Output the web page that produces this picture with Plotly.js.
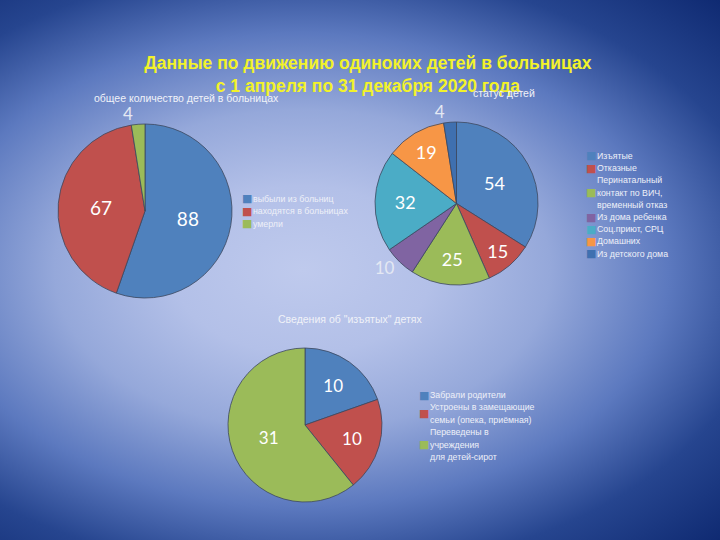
<!DOCTYPE html>
<html>
<head>
<meta charset="utf-8">
<script src="https://cdn.plot.ly/plotly-3.0.1.min.js"></script>
<style>
html,body{margin:0;padding:0;}
body{width:720px;height:540px;overflow:hidden;
background:radial-gradient(ellipse farthest-corner at 42% 50%, #bfcaed 0%, #b3c0e8 22%, #95a8da 42%, #5c79bf 62%, #26458f 80%, #0f2a72 100%);}
#chart{width:720px;height:540px;}
</style>
</head>
<body>
<div id="chart"></div>
<script>
// ---- data ----
const mainTitle = "Данные по движению одиноких детей в больницах<br>с 1 апреля по 31 декабря 2020 года";

const pie1Title = "общее количество детей в больницах";
const pie1Labels = ["выбыли из больниц", "находятся в больницах", "умерли"];
const pie1Values = [88, 67, 4];

const pie2Title = "статус детей";
const pie2Labels = ["Изъятые", "Отказные", "Перинатальный<br>контакт по ВИЧ,<br>временный отказ", "Из дома ребенка", "Соц.приют, СРЦ", "Домашних", "Из детского дома"];
const pie2Values = [54, 15, 25, 10, 32, 19, 4];

const pie3Title = "Сведения об \"изъятых\" детях";
const pie3Labels = ["Забрали родители", "Устроены в замещающие<br>семьи (опека, приёмная)", "Переведены в<br>учреждения<br>для детей-сирот"];
const pie3Values = [10, 10, 31];

const sliceColors = ["#4f81bd", "#c0504d", "#9bbb59", "#8064a2", "#4bacc6", "#f79646", "#3f70b0"];

// ---- styles ----
const W = 720, H = 540;
const lineStyle = {color: "#3c475e", width: 0.8};
const inFont = {family: "Lato, 'Open Sans', sans-serif", color: "#ffffff", size: 19};
const outFont = {family: "Lato, 'Open Sans', sans-serif", color: "#e4e8f3", size: 17};
const legFont = {family: "'Liberation Sans', Arial, sans-serif", color: "#eef0f8", size: 8.8};
const subFont = {family: "'Liberation Sans', Arial, sans-serif", color: "#f0f2f8", size: 10.5};

function dom(x0, x1, y0, y1){ return {x:[x0/W, x1/W], y:[1 - y1/H, 1 - y0/H]}; }

const traces = [
  {type:"pie", labels:pie1Labels, values:pie1Values, sort:false, direction:"clockwise", rotation:0,
   marker:{colors:sliceColors.slice(0,3), line:lineStyle}, textinfo:"value",
   textposition:["inside","inside","outside"], insidetextorientation:"horizontal",
   insidetextfont:inFont, outsidetextfont:outFont, domain:dom(58,232,124,298), hoverinfo:"label+value"},
  {type:"pie", labels:pie2Labels, values:pie2Values, sort:false, direction:"clockwise", rotation:0,
   marker:{colors:sliceColors, line:lineStyle}, textinfo:"value",
   textposition:["inside","inside","inside","outside","inside","inside","outside"], insidetextorientation:"horizontal",
   insidetextfont:Object.assign({}, inFont, {size:18}), outsidetextfont:outFont, domain:dom(375,538,122,285), hoverinfo:"label+value"},
  {type:"pie", labels:pie3Labels, values:pie3Values, sort:false, direction:"clockwise", rotation:0,
   marker:{colors:sliceColors.slice(0,3), line:lineStyle}, textinfo:"value",
   textposition:"inside", insidetextorientation:"horizontal",
   insidetextfont:Object.assign({}, inFont, {size:17}), domain:dom(228,382,348,502), hoverinfo:"label+value"}
];

// legend built from the label arrays (compact line spacing as in the reference)
function legendAnnots(labels, colors, x0, yTop, lh){
  const out = [];
  let row = 0;
  labels.forEach((lab, i) => {
    const lines = lab.split("<br>");
    const mid = row + (lines.length - 1) / 2;
    out.push({text:"■", x:x0/W, y:1 - (yTop + mid*lh)/H, xref:"paper", yref:"paper",
      xanchor:"left", yanchor:"middle", showarrow:false,
      font:{family:"'DejaVu Sans', sans-serif", size:11, color:colors[i]}});
    lines.forEach((ln, k) => {
      out.push({text:ln, x:(x0+11)/W, y:1 - (yTop + (row+k)*lh)/H, xref:"paper", yref:"paper",
        xanchor:"left", yanchor:"middle", showarrow:false, font:legFont});
    });
    row += lines.length;
  });
  return out;
}

const annotations = [
  {text: pie1Title, x:186/W, y:1-98/H, xref:"paper", yref:"paper", xanchor:"center", yanchor:"middle", showarrow:false, font:subFont},
  {text: pie2Title, x:504/W, y:1-93/H, xref:"paper", yref:"paper", xanchor:"center", yanchor:"middle", showarrow:false, font:subFont},
  {text: pie3Title, x:350/W, y:1-319/H, xref:"paper", yref:"paper", xanchor:"center", yanchor:"middle", showarrow:false, font:subFont}
].concat(
  legendAnnots(pie1Labels, sliceColors, 240, 199, 12.5),
  legendAnnots(pie2Labels, sliceColors, 584, 156, 12.2),
  legendAnnots(pie3Labels, sliceColors, 417, 395, 12.4)
);

const layout = {
  width: W, height: H,
  margin:{l:0, r:0, t:0, b:0},
  paper_bgcolor:"rgba(0,0,0,0)", plot_bgcolor:"rgba(0,0,0,0)",
  showlegend:false,
  title:{text: mainTitle, x:0.511, xanchor:"center", y:1 - 69/H, yanchor:"top",
         font:{family:"'Liberation Sans', Arial, sans-serif", size:17.5, color:"#f2f22a", weight:"bold"}},
  annotations: annotations
};

Plotly.newPlot("chart", traces, layout, {displayModeBar:false, staticPlot:true});
</script>
</body>
</html>
